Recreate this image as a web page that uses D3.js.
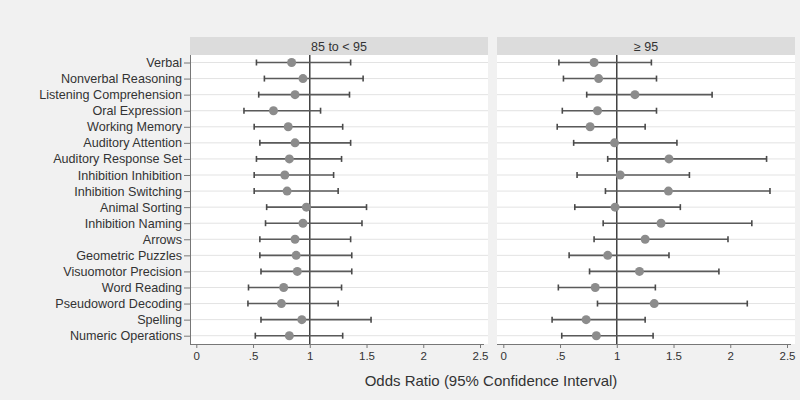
<!DOCTYPE html>
<html>
<head>
<meta charset="utf-8">
<script src="https://cdn.jsdelivr.net/npm/d3@7/dist/d3.min.js"></script>
<style>
html,body{margin:0;padding:0;background:#f1f1f1;}
svg{display:block;font-family:"Liberation Sans",Arial,sans-serif;}
</style>
</head>
<body>
<svg id="chart" width="800" height="400"></svg>
<script>
const categories = ["Verbal","Nonverbal Reasoning","Listening Comprehension","Oral Expression","Working Memory","Auditory Attention","Auditory Response Set","Inhibition Inhibition","Inhibition Switching","Animal Sorting","Inhibition Naming","Arrows","Geometric Puzzles","Visuomotor Precision","Word Reading","Pseudoword Decoding","Spelling","Numeric Operations"];
const panelTitles = ["85 to < 95", "\u2265 95"];
// 85 to < 95
const or1  = [0.84,0.94,0.87,0.68,0.81,0.87,0.82,0.78,0.80,0.97,0.94,0.87,0.88,0.89,0.77,0.75,0.93,0.82];
const lo1  = [0.53,0.60,0.55,0.42,0.51,0.56,0.53,0.51,0.51,0.62,0.61,0.56,0.56,0.57,0.46,0.455,0.57,0.52];
const hi1  = [1.36,1.47,1.35,1.095,1.29,1.36,1.28,1.21,1.25,1.50,1.46,1.36,1.37,1.37,1.28,1.25,1.54,1.29];
// >= 95
const or2  = [0.80,0.84,1.16,0.83,0.765,0.98,1.46,1.03,1.455,0.985,1.39,1.25,0.92,1.20,0.81,1.33,0.73,0.82];
const lo2  = [0.49,0.53,0.735,0.52,0.475,0.62,0.92,0.65,0.90,0.63,0.88,0.80,0.58,0.76,0.485,0.83,0.43,0.515];
const hi2  = [1.305,1.35,1.84,1.35,1.25,1.53,2.32,1.64,2.35,1.56,2.19,1.98,1.46,1.90,1.34,2.15,1.25,1.32];
const xTicks = [0,0.5,1,1.5,2,2.5];
const xTickLabels = ["0",".5","1","1.5","2","2.5"];
const xTitle = "Odds Ratio (95% Confidence Interval)";

const svg = d3.select("#chart");
const plotTop = 55, plotBottom = 344, headerTop = 37;
const panelW = 298;
const panelX = [190, 497];
const y = d3.scalePoint().domain(categories).range([62.5, 335.7]);
const x = d3.scaleLinear().domain([0,2.5]).range([6.3, 290]);
const fmt = d => xTickLabels[xTicks.indexOf(d)];

const series = [
  {t: panelTitles[0], or: or1, lo: lo1, hi: hi1},
  {t: panelTitles[1], or: or2, lo: lo2, hi: hi2}
];

series.forEach((s, i) => {
  const g = svg.append("g").attr("transform", `translate(${panelX[i]},0)`);
  g.append("rect").attr("x",0).attr("y",headerTop).attr("width",panelW).attr("height",plotTop-headerTop).attr("fill","#dcdcdc");
  g.append("text").attr("x",panelW/2).attr("y",(headerTop+plotTop)/2+4.5).attr("text-anchor","middle")
    .attr("font-size",12.5).attr("fill","#333").text(s.t);
  g.append("rect").attr("x",0).attr("y",plotTop).attr("width",panelW).attr("height",plotBottom-plotTop).attr("fill","#ffffff");
  // gridlines
  g.selectAll("line.grid").data(categories).join("line").attr("class","grid")
    .attr("x1",0).attr("x2",panelW).attr("y1",d=>y(d)).attr("y2",d=>y(d))
    .attr("stroke","#e3e3e3").attr("stroke-width",1);
  // reference line
  g.append("line").attr("x1",x(1)).attr("x2",x(1)).attr("y1",plotTop).attr("y2",plotBottom)
    .attr("stroke","#333").attr("stroke-width",1.4);
  const rows = categories.map((c,k)=>({c, or:s.or[k], lo:s.lo[k], hi:s.hi[k]}));
  g.selectAll("line.ci").data(rows).join("line").attr("class","ci")
    .attr("x1",d=>x(d.lo)).attr("x2",d=>x(d.hi)).attr("y1",d=>y(d.c)).attr("y2",d=>y(d.c))
    .attr("stroke","#5a5a5a").attr("stroke-width",1.6);
  g.selectAll("line.caplo").data(rows).join("line").attr("class","caplo")
    .attr("x1",d=>x(d.lo)).attr("x2",d=>x(d.lo)).attr("y1",d=>y(d.c)-3).attr("y2",d=>y(d.c)+3)
    .attr("stroke","#4a4a4a").attr("stroke-width",1.6);
  g.selectAll("line.caphi").data(rows).join("line").attr("class","caphi")
    .attr("x1",d=>x(d.hi)).attr("x2",d=>x(d.hi)).attr("y1",d=>y(d.c)-3).attr("y2",d=>y(d.c)+3)
    .attr("stroke","#4a4a4a").attr("stroke-width",1.6);
  g.selectAll("circle.pt").data(rows).join("circle").attr("class","pt")
    .attr("cx",d=>x(d.or)).attr("cy",d=>y(d.c)).attr("r",4.5).attr("fill","#8c8c8c");
  // x axis
  const ax = g.append("g").attr("transform",`translate(0,${plotBottom})`)
    .call(d3.axisBottom(x).tickValues(xTicks).tickFormat(fmt).tickSize(4).tickPadding(4));
  ax.select(".domain").attr("d",`M0,0.5H${panelW-4}`).attr("stroke","#777");
  ax.selectAll(".tick line").attr("stroke","#777");
  ax.selectAll(".tick text").attr("font-size",11.5).attr("fill","#333").attr("font-family","Liberation Sans, Arial, sans-serif");
});

// y axis
const yAx = svg.append("g").attr("transform",`translate(${panelX[0]},0)`)
  .call(d3.axisLeft(y).tickSize(6).tickPadding(2));
yAx.select(".domain").attr("d",`M0.5,${plotTop}V${plotBottom}`).attr("stroke","#777");
yAx.selectAll(".tick line").attr("stroke","#777");
yAx.selectAll(".tick text").attr("font-size",12.6).attr("fill","#333").attr("font-family","Liberation Sans, Arial, sans-serif");

svg.append("text").attr("x",491).attr("y",386).attr("text-anchor","middle")
  .attr("font-size",15).attr("fill","#333").text(xTitle);
</script>
</body>
</html>
